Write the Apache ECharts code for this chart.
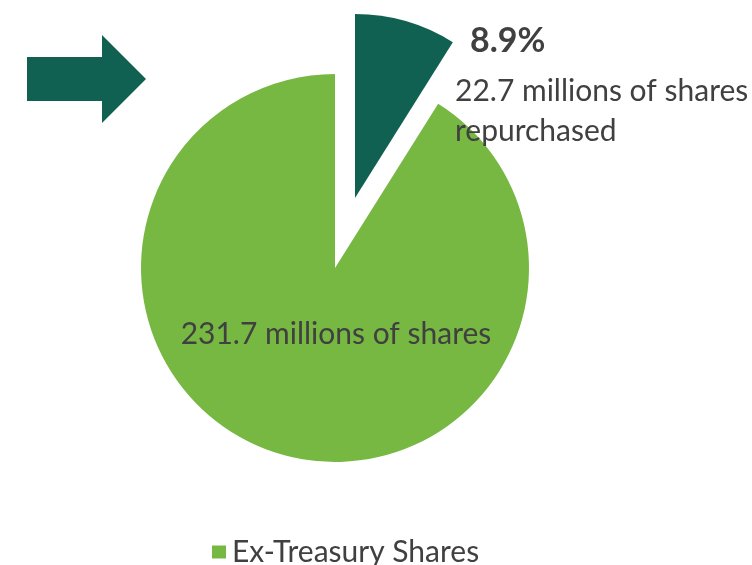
<!DOCTYPE html>
<html>
<head>
<meta charset="utf-8">
<title>Share repurchase</title>
<script src="https://cdn.jsdelivr.net/npm/echarts@6/dist/echarts.min.js"></script>
<style>
  html, body { margin: 0; padding: 0; background: #ffffff; }
  #chart { width: 752px; height: 565px; }
</style>
</head>
<body>
<div id="chart"></div>
<script>
// Share split, in millions of shares
var sliceNames = ['Repurchased Shares', 'Ex-Treasury Shares'];
var shareValues = [22.7, 231.7];
var sliceColors = ['#116153', '#76b842'];
var legendItems = ['Ex-Treasury Shares'];

var FONT = 'Lato';
var TEXT_COLOR = '#404040';
var total = shareValues[0] + shareValues[1];

var chart = echarts.init(document.getElementById('chart'), null, { renderer: 'canvas' });

// The remaining shares form the main disc; the repurchased slice is pulled
// out along its bisector and drawn on its own, slightly smaller.
function buildData(visibleIndex) {
  return sliceNames.map(function (name, i) {
    var shown = i === visibleIndex;
    return {
      name: name,
      value: shareValues[i],
      itemStyle: { color: sliceColors[i], opacity: shown ? 1 : 0 },
      label: { show: shown }
    };
  });
}

var option = {
  animation: false,
  backgroundColor: '#ffffff',
  color: sliceColors,
  legend: {
    data: legendItems.map(function (name) {
      return { name: name, itemStyle: { color: sliceColors[sliceNames.indexOf(name)], opacity: 1 } };
    }),
    left: 207,
    top: 532,
    icon: 'rect',
    itemWidth: 14,
    itemHeight: 13,
    selectedMode: false,
    textStyle: {
      fontFamily: FONT,
      fontSize: 30,
      color: TEXT_COLOR,
      padding: [0, 0, 0, 1]
    }
  },
  graphic: [{
    type: 'polygon',
    shape: {
      points: [[27, 57], [102, 57], [102, 35], [146, 79], [102, 123], [102, 101], [27, 101]]
    },
    style: { fill: '#116153' }
  }],
  series: [
    {
      name: 'Ex-Treasury Shares',
      type: 'pie',
      center: [335, 268],
      radius: [0, 194],
      startAngle: 90,
      clockwise: true,
      silent: true,
      data: buildData(1),
      label: {
        position: 'inside',
        fontFamily: FONT,
        fontSize: 30,
        color: TEXT_COLOR,
        formatter: function (p) { return p.value + ' millions of shares'; }
      },
      labelLayout: { x: 336, y: 334, align: 'center', verticalAlign: 'middle' },
      labelLine: { show: false }
    },
    {
      name: 'Repurchased Shares',
      type: 'pie',
      center: [355, 198],
      radius: [0, 184],
      startAngle: 90,
      clockwise: true,
      silent: true,
      data: buildData(0),
      label: {
        position: 'outside',
        fontFamily: FONT,
        color: TEXT_COLOR,
        formatter: function (p) {
          var pct = (p.value / total * 100).toFixed(1) + '%';
          return '{pct|' + pct + '}\n{txt|' + p.value + ' millions of shares}\n{txt|repurchased}';
        },
        rich: {
          pct: { fontFamily: FONT, fontSize: 34, fontWeight: 'bold', color: TEXT_COLOR, lineHeight: 60, padding: [0, 0, 0, 15] },
          txt: { fontFamily: FONT, fontSize: 30, color: TEXT_COLOR, lineHeight: 40 }
        }
      },
      labelLayout: { x: 455, y: 11, align: 'left', verticalAlign: 'top' },
      labelLine: { show: false }
    }
  ]
};

chart.setOption(option);
</script>
</body>
</html>
